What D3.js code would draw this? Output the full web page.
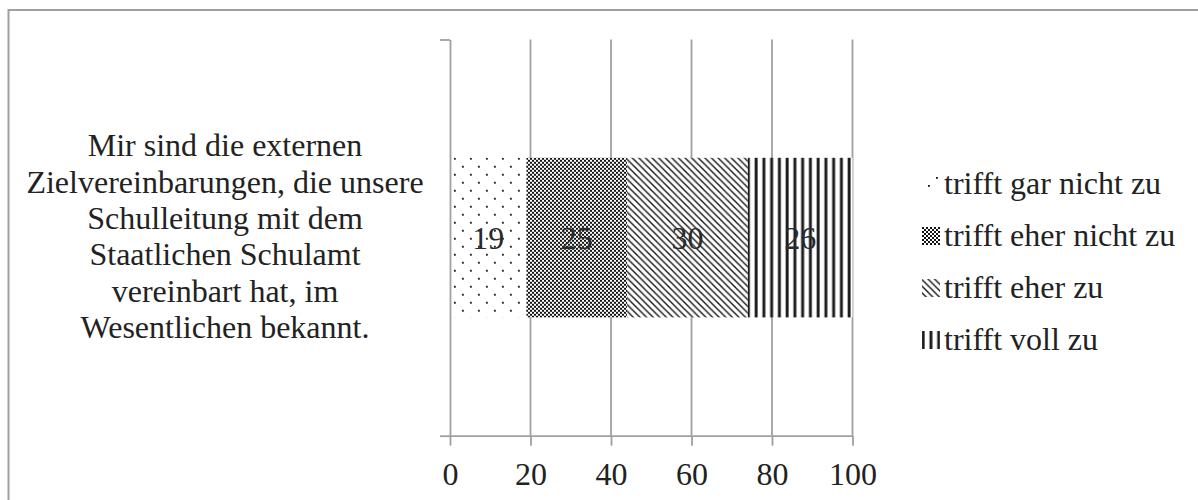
<!DOCTYPE html>
<html>
<head>
<meta charset="utf-8">
<script src="https://cdn.jsdelivr.net/npm/d3@7"></script>
<style>
  html, body { margin: 0; padding: 0; background: #fff; }
  svg { display: block; }
  svg text, svg tspan { font-family: "Liberation Serif", "Times New Roman", serif !important; }
</style>
</head>
<body>
<svg id="chart" width="1198" height="500"></svg>
<script>
// ---- data ----
const categories = ["Mir sind die externen Zielvereinbarungen, die unsere Schulleitung mit dem Staatlichen Schulamt vereinbart hat, im Wesentlichen bekannt."];
const categoryLines = [[
  "Mir sind die externen",
  "Zielvereinbarungen, die unsere",
  "Schulleitung mit dem",
  "Staatlichen Schulamt",
  "vereinbart hat, im",
  "Wesentlichen bekannt."
]];
const seriesNames = ["trifft gar nicht zu", "trifft eher nicht zu", "trifft eher zu", "trifft voll zu"];
const seriesValues = [19, 25, 30, 26];
const xTickValues = [0, 20, 40, 60, 80, 100];

// ---- layout ----
const svg = d3.select("#chart");
const FONT = "Liberation Serif";
const plot = { left: 450, right: 852.5, top: 39.5, bottom: 435.7 };
const fontSize = 32;
const gray = "#a0a0a0";
const textColor = "#222";

const x = d3.scaleLinear().domain([0, 100]).range([plot.left, plot.right]);
const y = d3.scaleBand().domain(categories).range([plot.top, plot.bottom])
  .paddingInner(0.4257).paddingOuter(0.4257);
const yEdge = d3.scaleLinear().domain([0, 1]).range([plot.bottom, plot.top]);

// ---- patterns ----
const defs = svg.append("defs");
const patternIds = ["p-dots", "p-check", "p-diag", "p-vert"];

function makePatterns(suffix, ox, oy, vertX) {
  let p = defs.append("pattern").attr("id", "p-dots" + suffix).attr("patternUnits", "userSpaceOnUse")
    .attr("width", 16).attr("height", 16).attr("x", ox).attr("y", oy);
  p.append("rect").attr("width", 16).attr("height", 16).attr("fill", "#fff");
  p.append("rect").attr("x", 0).attr("y", 0).attr("width", 1.8).attr("height", 1.8).attr("fill", "#111");
  p.append("rect").attr("x", 8).attr("y", 8).attr("width", 1.8).attr("height", 1.8).attr("fill", "#111");

  p = defs.append("pattern").attr("id", "p-check" + suffix).attr("patternUnits", "userSpaceOnUse")
    .attr("width", 4).attr("height", 4).attr("x", ox).attr("y", oy);
  p.append("rect").attr("width", 4).attr("height", 4).attr("fill", "#fff");
  p.append("rect").attr("x", 0).attr("y", 0).attr("width", 2).attr("height", 2).attr("fill", "#151515").attr("shape-rendering", "crispEdges");
  p.append("rect").attr("x", 2).attr("y", 2).attr("width", 2).attr("height", 2).attr("fill", "#151515").attr("shape-rendering", "crispEdges");

  const w = 6.6;
  p = defs.append("pattern").attr("id", "p-diag" + suffix).attr("patternUnits", "userSpaceOnUse")
    .attr("width", w).attr("height", w).attr("x", ox).attr("y", oy);
  p.append("rect").attr("width", w).attr("height", w).attr("fill", "#fff");
  p.append("path").attr("d", `M-1,-1L${w + 1},${w + 1}M${w - 1},-1L${w + 1},1M-1,${w - 1}L1,${w + 1}`)
    .attr("stroke", "#111").attr("stroke-width", 1.35).attr("fill", "none");

  p = defs.append("pattern").attr("id", "p-vert" + suffix).attr("patternUnits", "userSpaceOnUse")
    .attr("width", 7.75).attr("height", 10).attr("x", vertX).attr("y", oy);
  p.append("rect").attr("width", 7.75).attr("height", 10).attr("fill", "#fff");
  p.append("rect").attr("x", 0.6).attr("y", 0).attr("width", 2.9).attr("height", 10).attr("fill", "#1a1a1a");
}

// ---- frame ----
svg.append("rect").attr("x", 8.5).attr("y", 10).attr("width", 1400).attr("height", 700)
  .attr("fill", "#fff").attr("stroke", gray).attr("stroke-width", 2);

// ---- gridlines ----
svg.append("g").selectAll("line").data(xTickValues.filter(d => d > 0)).join("line")
  .attr("x1", d => x(d)).attr("x2", d => x(d))
  .attr("y1", plot.top).attr("y2", plot.bottom)
  .attr("stroke", gray).attr("stroke-width", 1.8);

// ---- bars ----
const ends = d3.cumsum(seriesValues);
const starts = ends.map((e, i) => e - seriesValues[i]);
const barTop = y(categories[0]);
const bw = y.bandwidth();
makePatterns("", x(starts[0]) + 4, barTop, x(starts[3]) - 1.5);

svg.append("g").selectAll("rect").data(seriesValues).join("rect")
  .attr("x", (d, i) => x(starts[i]))
  .attr("width", (d, i) => x(ends[i]) - x(starts[i]))
  .attr("y", barTop).attr("height", bw)
  .attr("fill", (d, i) => `url(#${patternIds[i]})`);

svg.append("g").selectAll("text").data(seriesValues).join("text")
  .attr("x", (d, i) => (x(starts[i]) + x(ends[i])) / 2)
  .attr("y", barTop + bw / 2 + 11)
  .attr("text-anchor", "middle")
  .attr("font-family", FONT)
  .attr("font-size", fontSize)
  .attr("fill", "#2a2a2a")
  .text(d => d);

// ---- axes ----
const xAxis = svg.append("g").attr("transform", `translate(0,${plot.bottom})`)
  .call(d3.axisBottom(x).tickValues(xTickValues).tickSize(10).tickSizeOuter(0).tickPadding(17));
xAxis.attr("font-family", FONT).attr("font-size", fontSize);
xAxis.select(".domain").attr("stroke", gray).attr("stroke-width", 1.8);
xAxis.selectAll(".tick line").attr("stroke", gray).attr("stroke-width", 1.8);
xAxis.selectAll(".tick text").attr("font-family", FONT).attr("font-size", fontSize).attr("fill", textColor);

const yAxis = svg.append("g").attr("transform", `translate(${plot.left},0)`)
  .call(d3.axisLeft(yEdge).tickValues([0, 1]).tickSize(10).tickSizeOuter(0).tickFormat(""));
yAxis.select(".domain").attr("stroke", gray).attr("stroke-width", 1.8);
yAxis.selectAll(".tick line").attr("stroke", gray).attr("stroke-width", 1.8);

// ---- category label ----
const lineH = 36.4;
const catText = svg.append("text").attr("text-anchor", "middle")
  .attr("font-family", FONT).attr("font-size", fontSize).attr("fill", textColor);
const lines = categoryLines[0];
const firstBase = barTop + bw / 2 - (lines.length - 1) / 2 * lineH + 9.5;
lines.forEach((l, i) => {
  catText.append("tspan").attr("x", 225).attr("y", firstBase + i * lineH).text(l);
});

// ---- legend ----
const legX = 922, legY0 = 194, legStep = 52;
makePatterns("-leg", legX + 4, legY0 - 19, legX - 0.6);
const legend = svg.append("g").selectAll("g").data(seriesNames).join("g")
  .attr("transform", (d, i) => `translate(${legX},${legY0 + i * legStep})`);
legend.append("rect").attr("x", 0).attr("y", -19).attr("width", 18).attr("height", 18)
  .attr("fill", (d, i) => `url(#${patternIds[i]}-leg)`);
legend.append("text").attr("x", 22).attr("y", 0)
  .attr("font-family", FONT).attr("font-size", fontSize).attr("fill", textColor)
  .text(d => d);
</script>
</body>
</html>
